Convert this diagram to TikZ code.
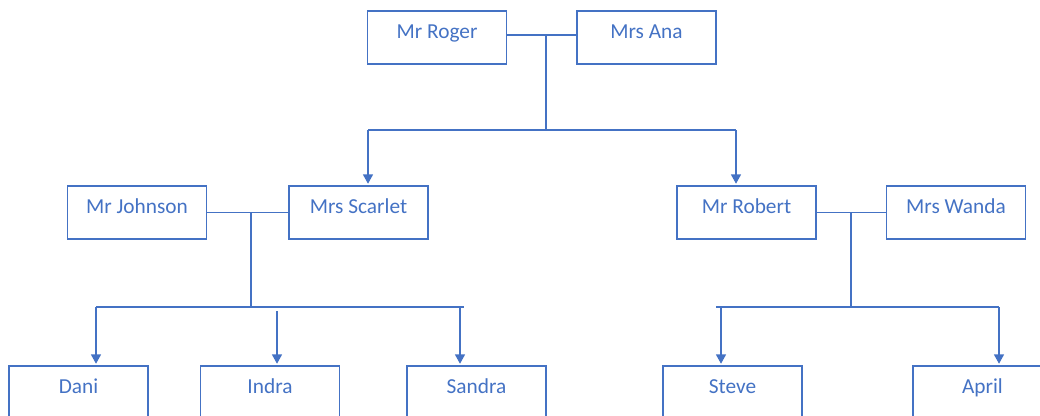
\documentclass[tikz,border=0pt]{standalone}
\usepackage{fontspec}
\setmainfont{Carlito}
\usetikzlibrary{arrows.meta}
\definecolor{ob}{HTML}{4472C4}
\begin{document}
\begin{tikzpicture}[x=0.75pt,y=-0.75pt,
  person/.style={draw=ob, line width=1pt, minimum width=104.25pt, minimum height=39.75pt,
    inner sep=0pt, text=ob, font=\fontsize{16}{19}\selectfont, text height=12pt, text depth=11pt},
  conn/.style={draw=ob, line width=1pt},
  arr/.style={conn, -{Triangle[width=7.5pt,length=7pt]}, shorten >=1.2pt}]
\useasboundingbox (0,0) rectangle (1040,415);
\clip (0,0) rectangle (1040,415);
% generation 1
\node[person] (roger) at (437,37.5) {Mr Roger};
\node[person] (ana) at (646.5,37.5) {Mrs Ana};
% generation 2
\node[person] (johnson) at (137,212.5) {Mr Johnson};
\node[person] (scarlet) at (358.5,212.5) {Mrs Scarlet};
\node[person] (robert) at (746.5,212.5) {Mr Robert};
\node[person] (wanda) at (956,212.5) {Mrs Wanda};
% generation 3
\node[person] (dani) at (78.5,392.5) {Dani};
\node[person] (indra) at (270,392.5) {Indra};
\node[person] (sandra) at (476.5,392.5) {Sandra};
\node[person] (steve) at (732.5,392.5) {Steve};
\node[person] (april) at (982.5,392.5) {April};
% junction coordinates
\coordinate (r1) at (506.5,35);
\coordinate (a1) at (576.5,35);
\coordinate (m1) at (546,35);
\coordinate (b1) at (546,130);
\coordinate (b1l) at (368,130);
\coordinate (b1r) at (736,130);
\coordinate (m2) at (251,212.5);
\coordinate (b2) at (251,307);
\coordinate (b2l) at (96,307);
\coordinate (b2r) at (464,307);
\coordinate (i2) at (277,311);
\coordinate (s2) at (460,307);
\coordinate (m3) at (851,212.5);
\coordinate (b3) at (851,307);
\coordinate (b3l) at (716,307);
\coordinate (b3r) at (999,307);
\coordinate (st3) at (721,307);
% couple 1
\draw[conn] (r1) -- (a1);
\draw[conn] (m1) -- (b1);
\draw[conn] (b1l) -- (b1r);
\draw[arr] (b1l) -- (b1l |- scarlet.north);
\draw[arr] (b1r) -- (b1r |- robert.north);
% couple 2
\draw[conn] (johnson) -- (scarlet);
\draw[conn] (m2) -- (b2);
\draw[conn] (b2l) -- (b2r);
\draw[arr] (b2l) -- (b2l |- dani.north);
\draw[arr] (i2) -- (i2 |- indra.north);
\draw[arr] (s2) -- (s2 |- sandra.north);
% couple 3
\draw[conn] (robert) -- (wanda);
\draw[conn] (m3) -- (b3);
\draw[conn] (b3l) -- (b3r);
\draw[arr] (st3) -- (st3 |- steve.north);
\draw[arr] (b3r) -- (b3r |- april.north);
\end{tikzpicture}
\end{document}
